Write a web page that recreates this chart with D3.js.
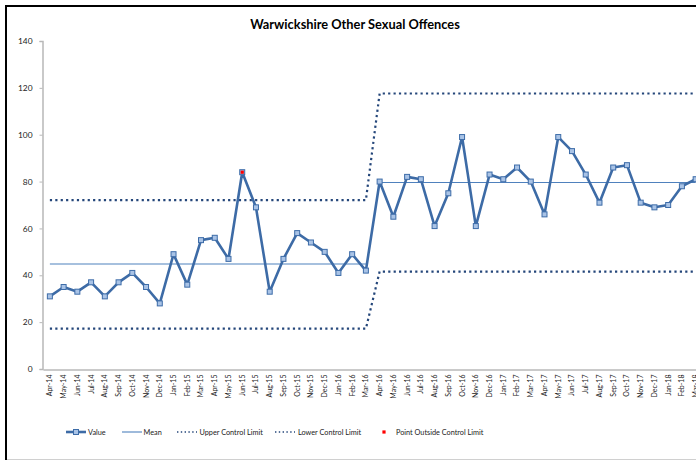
<!DOCTYPE html>
<html>
<head>
<meta charset="utf-8">
<script src="https://cdn.jsdelivr.net/npm/d3@7"></script>
<style>
  html, body { margin: 0; padding: 0; background: #fff; }
  svg { display: block; font-family: Lato, "Open Sans", sans-serif; }
</style>
</head>
<body>
<svg id="chart" width="696" height="461"></svg>
<script>
const months = ["Apr-14","May-14","Jun-14","Jul-14","Aug-14","Sep-14","Oct-14","Nov-14","Dec-14","Jan-15","Feb-15","Mar-15",
  "Apr-15","May-15","Jun-15","Jul-15","Aug-15","Sep-15","Oct-15","Nov-15","Dec-15","Jan-16","Feb-16","Mar-16",
  "Apr-16","May-16","Jun-16","Jul-16","Aug-16","Sep-16","Oct-16","Nov-16","Dec-16","Jan-17","Feb-17","Mar-17",
  "Apr-17","May-17","Jun-17","Jul-17","Aug-17","Sep-17","Oct-17","Nov-17","Dec-17","Jan-18","Feb-18","Mar-18"];
const values = [31,35,33,37,31,37,41,35,28,49,36,55,56,47,84,69,33,47,58,54,50,41,49,42,
  80,65,82,81,61,75,99,61,83,81,86,80,66,99,93,83,71,86,87,71,69,70,78,81];
const periodStarts = ["Apr-14","Apr-16"];
const meanLevels = [44.8, 79.6];
const uclLevels = [72.1, 117.6];
const lclLevels = [17.2, 41.6];
const yTicks = [0,20,40,60,80,100,120,140];
const title = "Warwickshire Other Sexual Offences";

const svg = d3.select("#chart");
const W = 696, H = 461;
svg.append("rect").attr("width", W).attr("height", H).attr("fill", "#fff");

// frame
svg.append("line").attr("x1", 6).attr("x2", W).attr("y1", 6).attr("y2", 6).attr("stroke", "#000").attr("stroke-width", 2);
svg.append("line").attr("x1", 6).attr("x2", 6).attr("y1", 5).attr("y2", 460).attr("stroke", "#000").attr("stroke-width", 2);
svg.append("line").attr("x1", 7).attr("x2", W).attr("y1", 459.5).attr("y2", 459.5).attr("stroke", "#d0d0d0").attr("stroke-width", 1);

const x0 = 43, bw = 13.74;
const x = d3.scaleBand().domain(months).range([x0, x0 + bw * months.length]);
const y = d3.scaleLinear().domain([0, 140]).range([369, 41]);
const cx = m => x(m) + x.bandwidth() / 2;

const startIdx = periodStarts.map(p => months.indexOf(p));
const periodOf = i => (i >= startIdx[1] ? 1 : 0);
const rows = months.map((m, i) => ({
  m, v: values[i], p: periodOf(i),
  mean: meanLevels[periodOf(i)], ucl: uclLevels[periodOf(i)], lcl: lclLevels[periodOf(i)]
}));

// title
svg.append("text").attr("x", 355).attr("y", 28.5).attr("text-anchor", "middle")
  .attr("font-size", 12.8).attr("font-weight", "bold").attr("fill", "#000").text(title);

// y axis
const yAxis = svg.append("g").attr("transform", `translate(${x0 - 0.5},0)`)
  .call(d3.axisLeft(y).tickValues(yTicks).tickSize(3).tickPadding(7));
yAxis.select(".domain").attr("stroke", "#b8b8b8").attr("stroke-width", 1.5);
yAxis.selectAll(".tick line").attr("stroke", "#b8b8b8");
yAxis.selectAll(".tick text").attr("font-size", 8.4).attr("fill", "#222").attr("font-family", "Lato, sans-serif");

// x axis
const xAxis = svg.append("g").attr("transform", `translate(0,${y(0) + 0.5})`)
  .call(d3.axisBottom(x).tickSize(0).tickPadding(0));
xAxis.select(".domain").attr("stroke", "#b8b8b8").attr("stroke-width", 1.5);
xAxis.selectAll(".tick text")
  .attr("font-size", 7).attr("fill", "#222").attr("font-family", "Lato, sans-serif")
  .attr("transform", "rotate(-90)").attr("text-anchor", "end")
  .attr("x", -5).attr("y", 0).attr("dy", "0.35em");

// limit lines
const dotStyle = sel => sel.attr("fill", "none").attr("stroke", "#24467a").attr("stroke-width", 2.2)
  .attr("stroke-dasharray", "2.2,3.2");
const lineGen = key => d3.line().x(d => cx(d.m)).y(d => y(d[key]));
svg.append("path").datum(rows).attr("d", lineGen("ucl")).call(dotStyle);
svg.append("path").datum(rows).attr("d", lineGen("lcl")).call(dotStyle);

// mean lines per period
[0, 1].forEach(p => {
  svg.append("path").datum(rows.filter(r => r.p === p)).attr("d", lineGen("mean"))
    .attr("fill", "none").attr("stroke", "#4f81bd").attr("stroke-width", 1.1);
});

// value line
svg.append("path").datum(rows).attr("d", lineGen("v"))
  .attr("fill", "none").attr("stroke", "#3d6ba6").attr("stroke-width", 2.6).attr("stroke-linejoin", "round");

// markers
const ms = 5;
svg.append("g").selectAll("rect").data(rows).join("rect")
  .attr("x", d => cx(d.m) - ms / 2).attr("y", d => y(d.v) - ms / 2)
  .attr("width", ms).attr("height", ms)
  .attr("fill", "#a9c3e6").attr("stroke", "#3d6ca8").attr("stroke-width", 1);

// outside points
const outside = rows.filter(r => r.v > r.ucl || r.v < r.lcl);
svg.append("g").selectAll("rect").data(outside).join("rect")
  .attr("x", d => cx(d.m) - 1.6).attr("y", d => y(d.v) - 1.6)
  .attr("width", 3.2).attr("height", 3.2).attr("fill", "#ff0000");

// legend
const ly = 432;
const lg = svg.append("g").attr("font-size", 7.3).attr("fill", "#222");
lg.append("line").attr("x1", 66).attr("x2", 86).attr("y1", ly).attr("y2", ly).attr("stroke", "#3d6ba6").attr("stroke-width", 2.6);
lg.append("rect").attr("x", 76 - 2.5).attr("y", ly - 2.5).attr("width", 5).attr("height", 5)
  .attr("fill", "#a9c3e6").attr("stroke", "#3d6ca8").attr("stroke-width", 1);
lg.append("text").attr("x", 88).attr("y", ly).attr("dy", "0.35em").text("Value");
lg.append("line").attr("x1", 122).attr("x2", 142).attr("y1", ly).attr("y2", ly).attr("stroke", "#4f81bd").attr("stroke-width", 1.1);
lg.append("text").attr("x", 143.5).attr("y", ly).attr("dy", "0.35em").text("Mean");
lg.append("line").attr("x1", 177).attr("x2", 197).attr("y1", ly).attr("y2", ly).attr("stroke", "#24467a").attr("stroke-width", 1.4).attr("stroke-dasharray", "1.4,2.4");
lg.append("text").attr("x", 199.5).attr("y", ly).attr("dy", "0.35em").text("Upper Control Limit");
lg.append("line").attr("x1", 275).attr("x2", 295).attr("y1", ly).attr("y2", ly).attr("stroke", "#24467a").attr("stroke-width", 1.4).attr("stroke-dasharray", "1.4,2.4");
lg.append("text").attr("x", 298).attr("y", ly).attr("dy", "0.35em").text("Lower Control Limit");
lg.append("rect").attr("x", 384 - 1.6).attr("y", ly - 1.6).attr("width", 3.2).attr("height", 3.2).attr("fill", "#ff0000");
lg.append("text").attr("x", 396).attr("y", ly).attr("dy", "0.35em").text("Point Outside Control Limit");
</script>
</body>
</html>
